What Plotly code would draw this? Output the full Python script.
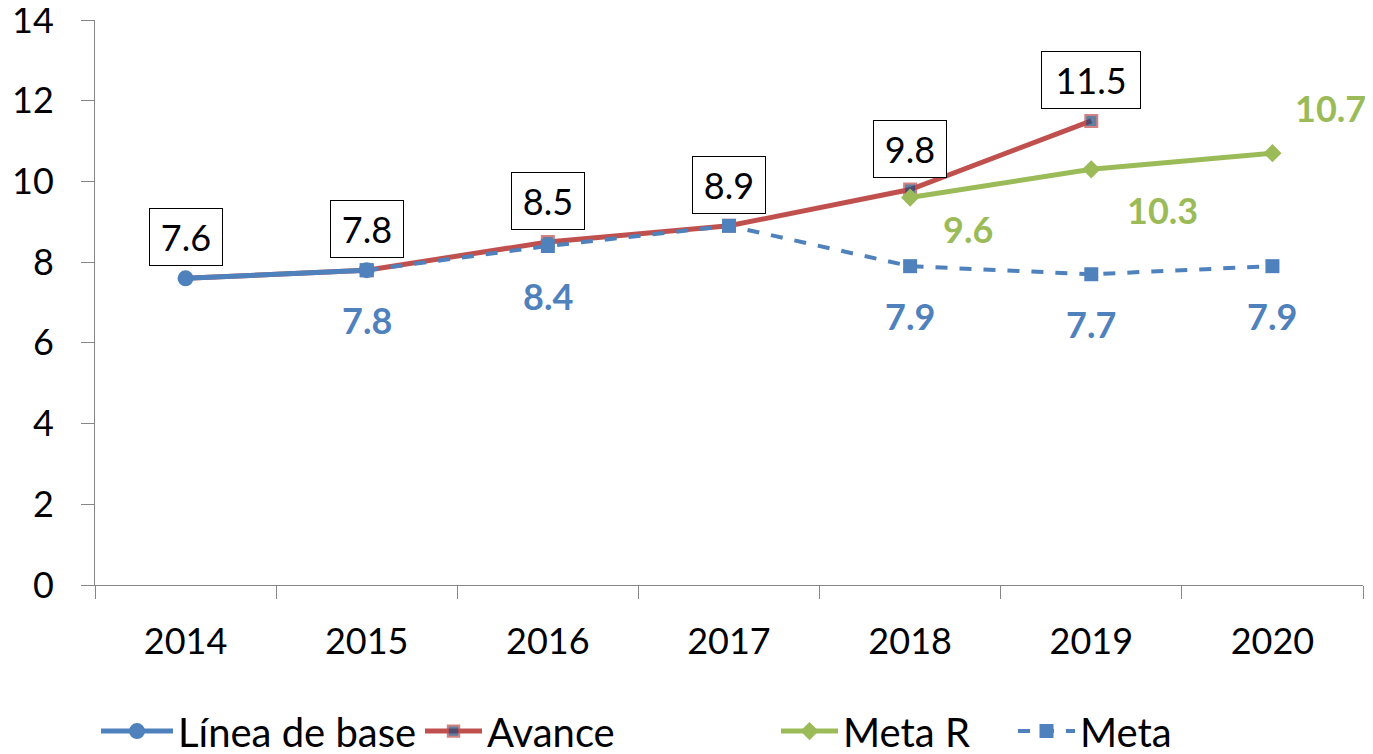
import plotly.graph_objects as go

years = ["2014", "2015", "2016", "2017", "2018", "2019", "2020"]

linea_base = [7.6, 7.8, None, None, None, None, None]
avance = [7.6, 7.8, 8.5, 8.9, 9.8, 11.5, None]
meta_r = [None, None, None, None, 9.6, 10.3, 10.7]
meta = [None, 7.8, 8.4, 8.9, 7.9, 7.7, 7.9]
meta_labels = [None, "7.8", "8.4", None, "7.9", "7.7", "7.9"]

BLUE = "#4F81BD"
RED = "#C0504D"
GREEN = "#9BBB59"
NAVY = "#1F497D"
FONT = "Lato"

fig = go.Figure()

fig.add_trace(go.Scatter(x=years, y=avance, name="Avance", mode="lines+markers",
                         line=dict(color=RED, width=5),
                         marker=dict(symbol="square", size=[8, 12, 12, 12, 12, 12, 12], color=NAVY,
                                     line=dict(color=RED, width=2)),
                         legend="legend2"))
fig.add_trace(go.Scatter(x=years, y=linea_base, name="Línea de base", mode="lines+markers",
                         line=dict(color=BLUE, width=5),
                         marker=dict(symbol="circle", size=16, color=BLUE),
                         legend="legend"))
fig.add_trace(go.Scatter(x=years, y=meta_r, name="Meta R", mode="lines+markers",
                         line=dict(color=GREEN, width=5),
                         marker=dict(symbol="diamond", size=14, color=GREEN),
                         legend="legend3"))
fig.add_trace(go.Scatter(x=years, y=meta, name="Meta", mode="lines+markers",
                         line=dict(color=BLUE, width=4, dash="dash"),
                         marker=dict(symbol="square", size=14, color=BLUE),
                         legend="legend4"))

# boxed labels for Avance
for i, v in enumerate(avance):
    if v is None:
        continue
    fig.add_annotation(x=i, y=v, xref="x", yref="y", text=f"{v:.1f}", showarrow=False,
                       yanchor="bottom", yshift=12,
                       font=dict(family=FONT, size=36, color="black"),
                       bgcolor="white", bordercolor="black", borderwidth=1,
                       borderpad=6, width=60 if v < 10 else 86)

# Meta labels below the points
for i, (v, lab) in enumerate(zip(meta, meta_labels)):
    if lab is None:
        continue
    fig.add_annotation(x=i, y=v, xref="x", yref="y", text=f"<b>{lab}</b>", showarrow=False,
                       yshift=-50, font=dict(family=FONT, size=36, color=BLUE))

# Meta R labels
shifts = {4: (58, -31), 5: (71, -41), 6: (58, 45)}
for i, v in enumerate(meta_r):
    if v is None:
        continue
    dx, dy = shifts[i]
    fig.add_annotation(x=i, y=v, xref="x", yref="y", text=f"<b>{v:.1f}</b>", showarrow=False,
                       xshift=dx, yshift=dy, font=dict(family=FONT, size=36, color=GREEN))

leg = dict(orientation="h", xref="container", yref="container", y=0.041, yanchor="middle",
           xanchor="left", font=dict(size=40), bgcolor="rgba(0,0,0,0)", itemwidth=57)
fig.update_layout(
    width=1373, height=754,
    margin=dict(l=87, r=18, t=12, b=177),
    plot_bgcolor="white", paper_bgcolor="white",
    font=dict(family=FONT, size=36, color="black"),
    showlegend=True,
    legend={**leg, "x": 88 / 1373, "itemwidth": 72},
    legend2={**leg, "x": 412 / 1373},
    legend3={**leg, "x": 768 / 1373},
    legend4={**leg, "x": 1005 / 1373},
)
fig.update_xaxes(type="category", range=[-0.5, 6.5], showline=True, linecolor="#868686", linewidth=1,
                 ticks="outside", tickson="boundaries", ticklen=13, tickcolor="#868686",
                 showgrid=False, ticklabelstandoff=25, automargin=False)
fig.update_yaxes(range=[0, 14], dtick=2, showline=True, linecolor="#868686", linewidth=1,
                 ticks="outside", ticklen=13, tickcolor="#868686", showgrid=False,
                 zeroline=False, ticklabelstandoff=20, automargin=False, ticklabeloverflow="allow")

fig.write_html("out.html")
